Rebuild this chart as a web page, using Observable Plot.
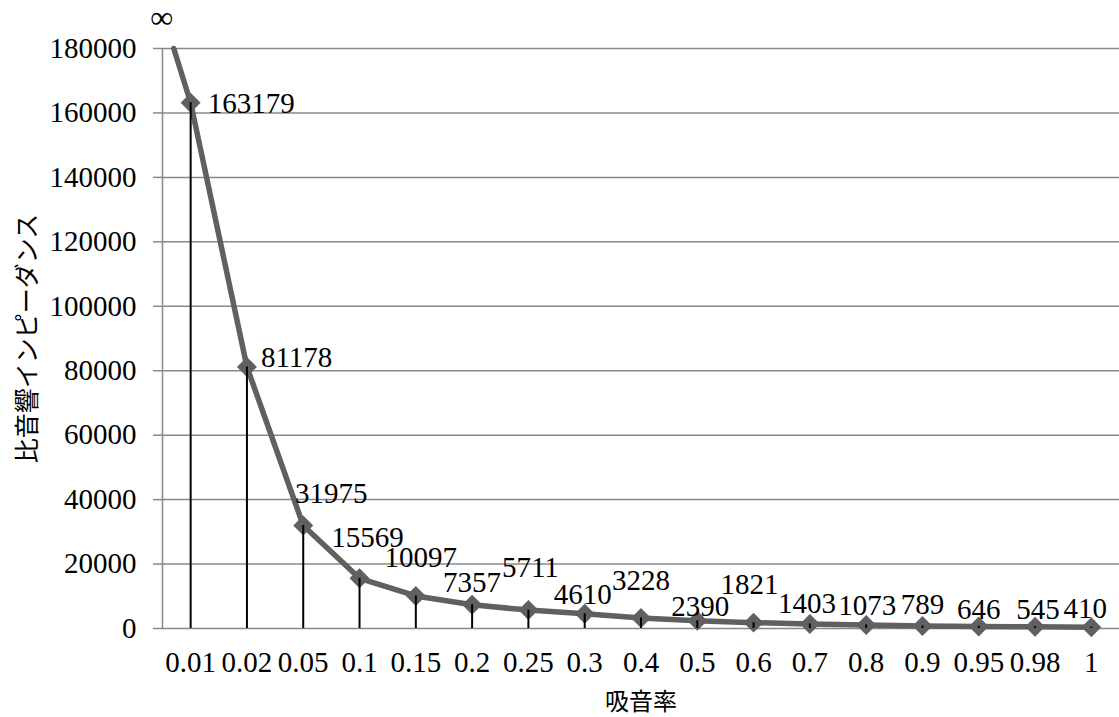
<!DOCTYPE html>
<html>
<head>
<meta charset="utf-8">
<script src="https://cdn.jsdelivr.net/npm/d3@7"></script>
<script src="https://cdn.jsdelivr.net/npm/@observablehq/plot@0.6"></script>
<style>
  html, body { margin: 0; padding: 0; background: #fff; }
  #chart svg { display: block; }
  #chart svg text { font-family: "Liberation Serif", serif; }
  #chart svg text.cjk { font-family: "Noto Sans CJK JP", sans-serif; }
</style>
</head>
<body>
<div id="chart"></div>
<script>
// Absorption coefficient categories and specific acoustic impedance values
const absorption = ["0.01", "0.02", "0.05", "0.1", "0.15", "0.2", "0.25", "0.3", "0.4", "0.5", "0.6", "0.7", "0.8", "0.9", "0.95", "0.98", "1"];
const impedance = [163179, 81178, 31975, 15569, 10097, 7357, 5711, 4610, 3228, 2390, 1821, 1403, 1073, 789, 646, 545, 410];
const yTicks = [0, 20000, 40000, 60000, 80000, 100000, 120000, 140000, 160000, 180000];

// The curve enters from the top of the frame, heading towards infinity at 0
const leadIn = { pos: -0.3, value: 180000, label: "∞" };

const xLabel = "吸音率";
const yLabel = "比音響インピーダンス";

const points = absorption.map((a, i) => ({ pos: i, category: a, value: impedance[i] }));

// Per-label placement (dx, dy in pixels, text anchor) so the labels do not collide
const labelPlacement = [
  [17, 1, "start"], [14, -9, "start"], [28, -32, "middle"], [8, -41, "middle"],
  [5, -38, "middle"], [0, -22, "middle"], [2, -42, "middle"], [-2, -19, "middle"],
  [0, -37, "middle"], [3, -14, "middle"], [-4, -38, "middle"], [-3, -20, "middle"],
  [1, -19, "middle"], [0, -21, "middle"], [0, -17, "middle"], [3, -17, "middle"],
  [-6, -18, "middle"]
];

const gridColor = "#888888";
const lineColor = "#606060";
const serif = "Liberation Serif";
const cjk = "Noto Sans CJK JP";
const fs = 29;

const valueLabels = points.map((d, i) => {
  const [dx, dy, anchor] = labelPlacement[i];
  return Plot.text([d], {
    x: "pos", y: "value", text: (p) => String(p.value),
    dx, dy, textAnchor: anchor, lineAnchor: "middle",
    fontFamily: serif, fontSize: fs, fill: "#000"
  });
});

const chart = Plot.plot({
  width: 1119,
  height: 717,
  marginLeft: 162,
  marginRight: 0,
  marginTop: 48,
  marginBottom: 89,
  style: { fontFamily: serif, fontSize: fs + "px", color: "#000", background: "#fff" },
  x: { type: "linear", domain: [-0.5, 16.5] },
  y: { domain: [0, 180000] },
  marks: [
    Plot.gridY(yTicks, { stroke: gridColor, strokeOpacity: 1, strokeWidth: 1.5 }),
    Plot.ruleX([-0.5], { stroke: gridColor, strokeWidth: 1.5 }),
    Plot.axisY({
      ticks: yTicks, tickSize: 9, tickPadding: 17,
      stroke: gridColor, strokeWidth: 1.5,
      tickFormat: d3.format("d"), label: null, fontFamily: serif, fontSize: fs, fill: "#000"
    }),
    Plot.axisX({
      ticks: d3.range(absorption.length), tickSize: 0, tickPadding: 23,
      tickFormat: (i) => absorption[i], label: null, fontFamily: serif, fontSize: fs, fill: "#000"
    }),
    Plot.line([leadIn, ...points], { x: "pos", y: "value", stroke: lineColor, strokeWidth: 5.5, strokeLinejoin: "round" }),
    Plot.dot(points, { x: "pos", y: "value", symbol: "diamond2", r: 9, fill: lineColor, stroke: "none" }),
    Plot.ruleX(points, { x: "pos", y1: 0, y2: "value", stroke: "#000", strokeWidth: 2 }),
    ...valueLabels,
    Plot.text([leadIn], { x: "pos", y: "value", text: "label", dx: -12, dy: -31, fontFamily: serif, fontSize: 32, fill: "#000" }),
    Plot.text([xLabel], { frameAnchor: "bottom", textAnchor: "middle", lineAnchor: "middle", dy: 74, fontFamily: cjk, fontSize: 24, fill: "#000", className: "cjk" }),
    Plot.text([yLabel], { frameAnchor: "left", textAnchor: "middle", lineAnchor: "middle", dx: -135, rotate: -90, fontFamily: cjk, fontSize: 25, fill: "#000", className: "cjk" })
  ]
});

// Japanese axis titles use the CJK face
chart.querySelectorAll("text").forEach((t) => {
  if (/[\u3000-\u9fff]/.test(t.textContent)) t.classList.add("cjk");
});

document.getElementById("chart").appendChild(chart);
</script>
</body>
</html>
